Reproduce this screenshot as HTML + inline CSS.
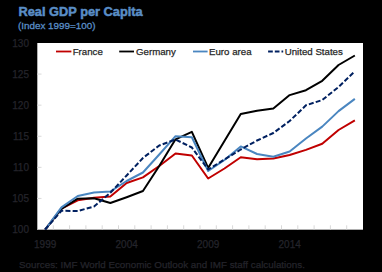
<!DOCTYPE html>
<html><head><meta charset="utf-8"><style>
html,body{margin:0;padding:0;background:#000;width:382px;height:272px;overflow:hidden}
svg{display:block}
text{font-family:"Liberation Sans",sans-serif}
</style></head><body>
<svg width="382" height="272" viewBox="0 0 382 272">
<rect x="0" y="0" width="382" height="272" fill="#000"/>
<text x="18.5" y="15.9" font-size="12.8" font-weight="bold" fill="#5a8ec6" stroke="#5a8ec6" stroke-width="0.5">Real GDP per Capita</text>
<text x="18" y="29.4" font-size="9.85" fill="#5a8ec6" stroke="#5a8ec6" stroke-width="0.3">(Index 1999=100)</text>
<g font-size="10" fill="#24242b" stroke="#24242b" stroke-width="0.25"><text x="29" y="233.10" text-anchor="end">100</text><text x="29" y="202.02" text-anchor="end">105</text><text x="29" y="170.93" text-anchor="end">110</text><text x="29" y="139.85" text-anchor="end">115</text><text x="29" y="108.77" text-anchor="end">120</text><text x="29" y="77.68" text-anchor="end">125</text><text x="29" y="46.60" text-anchor="end">130</text><text x="45.15" y="247.6" text-anchor="middle">1999</text><text x="126.65" y="247.6" text-anchor="middle">2004</text><text x="208.15" y="247.6" text-anchor="middle">2009</text><text x="289.65" y="247.6" text-anchor="middle">2014</text>
<text x="19" y="268.2" font-size="9.83">Sources: IMF World Economic Outlook and IMF staff calculations.</text>
</g>
<svg x="37" y="43" width="326" height="187.0" viewBox="37 43 326 187.0" overflow="hidden">
<rect x="37" y="43" width="326" height="187.0" fill="#fff"/>
<line x1="37.5" y1="43" x2="37.5" y2="230" stroke="#b0b0b0" stroke-width="1"/>
<line x1="37" y1="229.5" x2="363" y2="229.5" stroke="#b0b0b0" stroke-width="1"/>
<g stroke="#d9d9d9" stroke-width="1"><line x1="53.30" y1="225.30" x2="53.30" y2="229.5" /><line x1="69.60" y1="225.30" x2="69.60" y2="229.5" /><line x1="85.90" y1="225.30" x2="85.90" y2="229.5" /><line x1="102.20" y1="225.30" x2="102.20" y2="229.5" /><line x1="118.50" y1="225.30" x2="118.50" y2="229.5" /><line x1="134.80" y1="225.30" x2="134.80" y2="229.5" /><line x1="151.10" y1="225.30" x2="151.10" y2="229.5" /><line x1="167.40" y1="225.30" x2="167.40" y2="229.5" /><line x1="183.70" y1="225.30" x2="183.70" y2="229.5" /><line x1="200.00" y1="225.30" x2="200.00" y2="229.5" /><line x1="216.30" y1="225.30" x2="216.30" y2="229.5" /><line x1="232.60" y1="225.30" x2="232.60" y2="229.5" /><line x1="248.90" y1="225.30" x2="248.90" y2="229.5" /><line x1="265.20" y1="225.30" x2="265.20" y2="229.5" /><line x1="281.50" y1="225.30" x2="281.50" y2="229.5" /><line x1="297.80" y1="225.30" x2="297.80" y2="229.5" /><line x1="314.10" y1="225.30" x2="314.10" y2="229.5" /><line x1="330.40" y1="225.30" x2="330.40" y2="229.5" /><line x1="346.70" y1="225.30" x2="346.70" y2="229.5" /><line x1="37" y1="198.42" x2="41.5" y2="198.42" /><line x1="37" y1="167.33" x2="41.5" y2="167.33" /><line x1="37" y1="136.25" x2="41.5" y2="136.25" /><line x1="37" y1="105.17" x2="41.5" y2="105.17" /><line x1="37" y1="74.08" x2="41.5" y2="74.08" /></g>
<g fill="none" stroke-width="2" stroke-linejoin="round">
<polyline points="45.15,229.50 61.45,208.50 77.75,200.30 94.05,197.80 110.35,196.60 126.65,183.00 142.95,177.40 159.25,166.00 175.55,153.50 191.85,155.50 208.15,178.50 224.45,168.50 240.75,157.30 257.05,159.20 273.35,158.60 289.65,155.00 305.95,149.90 322.25,143.70 338.55,130.00 354.85,120.40" stroke="#c00000"/>
<polyline points="45.15,229.50 61.45,208.80 77.75,198.70 94.05,198.20 110.35,203.00 126.65,197.20 142.95,191.00 159.25,166.00 175.55,139.30 191.85,131.80 208.15,168.00 224.45,141.00 240.75,114.00 257.05,110.70 273.35,108.40 289.65,95.10 305.95,90.20 322.25,80.80 338.55,65.00 354.85,55.50" stroke="#000"/>
<polyline points="45.15,229.50 61.45,207.40 77.75,196.00 94.05,192.50 110.35,191.50 126.65,181.00 142.95,172.50 159.25,154.50 175.55,136.20 191.85,137.30 208.15,171.00 224.45,160.00 240.75,146.40 257.05,154.00 273.35,156.80 289.65,151.50 305.95,138.50 322.25,126.60 338.55,111.10 354.85,98.90" stroke="#4a86c0"/>
<polyline points="45.15,229.50 61.45,210.80 77.75,211.00 94.05,206.50 110.35,192.80 126.65,175.50 142.95,158.00 159.25,145.50 175.55,139.50 191.85,147.50 208.15,169.50 224.45,159.50 240.75,149.50 257.05,140.50 273.35,133.00 289.65,121.00 305.95,105.30 322.25,100.00 338.55,87.00 354.85,71.30" stroke="#002060" stroke-dasharray="5 2.2"/>
</g>
<g stroke-width="1.8" fill="none">
<line x1="56" y1="51.5" x2="71.4" y2="51.5" stroke="#c00000"/>
<line x1="119.2" y1="51.5" x2="134" y2="51.5" stroke="#000"/>
<line x1="193" y1="51.5" x2="207.6" y2="51.5" stroke="#4a86c0"/>
<line x1="268.1" y1="51.5" x2="283.2" y2="51.5" stroke="#002060" stroke-dasharray="4.7 2"/>
</g>
<g font-size="9.7" fill="#262626" stroke="#262626" stroke-width="0.25">
<text x="72.7" y="55.2">France</text>
<text x="136" y="55.2">Germany</text>
<text x="209" y="55.2">Euro area</text>
<text x="284.7" y="55.2">United States</text>
</g>
</svg>
</svg>
</body></html>
